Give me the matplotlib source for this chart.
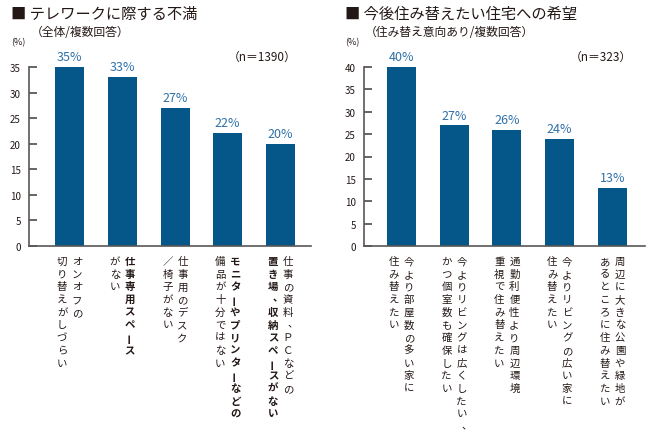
import matplotlib
matplotlib.use("Agg")
import matplotlib.pyplot as plt

plt.rcParams['font.family'] = ['Noto Sans CJK JP', 'DejaVu Sans']

# データ
left_values = [35, 33, 27, 22, 20]
left_labels = [
    [("オンオフの", "normal"), ("切り替えがしづらい", "normal")],
    [("仕事専用スペース", "bold"), ("がない", "normal")],
    [("仕事用のデスク", "normal"), ("／椅子がない", "normal")],
    [("モニターやプリンターなどの", "bold"), ("備品が十分ではない", "normal")],
    [("仕事の資料、ＰＣなどの", "normal"), ("置き場、収納スペースがない", "bold")],
]
right_values = [40, 27, 26, 24, 13]
right_labels = [
    [("今より部屋数の多い家に", "normal"), ("住み替えたい", "normal")],
    [("今よりリビングは広くしたい、", "normal"), ("かつ個室数も確保したい", "normal")],
    [("通勤利便性より周辺環境", "normal"), ("重視で住み替えたい", "normal")],
    [("今よりリビングの広い家に", "normal"), ("住み替えたい", "normal")],
    [("周辺に大きな公園や緑地が", "normal"), ("あるところに住み替えたい", "normal")],
]

W, H = 650, 431
bar_color = "#05578a"
label_color = "#2f70a8"
text_color = "#231815"

fig = plt.figure(figsize=(W / 100, H / 100), dpi=100)


def px(x, y):
    return x / W, 1 - y / H


def vtext(cx, top, s, weight):
    # 縦書き: 1文字ずつ配置
    y = top
    for ch in s:
        rot = 0
        dx, dy = 0, 0
        if ch == "ー":
            rot = 90
        if ch == "、":
            dx, dy = 5, -2
        fx, fy = px(cx + dx, y + dy)
        fig.text(fx, fy, ch, fontsize=7.5, weight=weight, color=text_color,
                 ha="center", va="center", rotation=rot, rotation_mode="anchor")
        y += 12.7


def panel(x0, x1, xlim, ymax, values, labels, title, sub, n_text, n_x, tx):
    l, b = px(x0, 247)
    r, t = px(x1, 68)
    ax = fig.add_axes([l, b, r - l, t - b])
    xs = range(len(values))
    ax.bar(xs, values, width=0.55, color=bar_color)
    ax.set_xlim(*xlim)
    ax.set_ylim(0, ymax)
    ax.set_yticks(range(0, ymax + 1, 5))
    ax.set_xticks([])
    for s in ["top", "right"]:
        ax.spines[s].set_visible(False)
    for s in ["left", "bottom"]:
        ax.spines[s].set_color("#595757")
        ax.spines[s].set_linewidth(1.2)
    ax.tick_params(axis="y", direction="in", length=6, width=1.1, color="#3e3a39",
                   labelsize=7, labelcolor=text_color, pad=6)
    for x, v in zip(xs, values):
        ax.text(x, v + 0.8, f"{v}%", ha="center", va="bottom", fontsize=9,
                color=label_color)
    # 縦書きラベル
    for x, lab in zip(xs, labels):
        cx = ax.transData.transform((x, 0))[0]
        vtext(cx + 7.5, 262, lab[0][0], lab[0][1])
        vtext(cx - 7.5, 262, lab[1][0], lab[1][1])
    fig.text(*px(tx, 14), "■ " + title, fontsize=11, color=text_color,
             ha="left", va="center")
    fig.text(*px(tx + 20, 32), sub, fontsize=8.5, color=text_color,
             ha="left", va="center")
    fig.text(*px(tx, 43), "(%)", fontsize=6.5, color=text_color,
             ha="left", va="center")
    fig.text(*px(n_x, 57), n_text, fontsize=8.5, color=text_color,
             ha="left", va="center")
    return ax


panel(29, 311, (-0.77, 4.58), 35, left_values, left_labels,
      "テレワークに際する不満", "（全体/複数回答）", "（n＝1390）", 228, 11)
panel(364, 645, (-0.71, 4.62), 40, right_values, right_labels,
      "今後住み替えたい住宅への希望", "（住み替え意向あり/複数回答）", "（n＝323）", 570, 345)

fig.savefig("out.png", dpi=100)
